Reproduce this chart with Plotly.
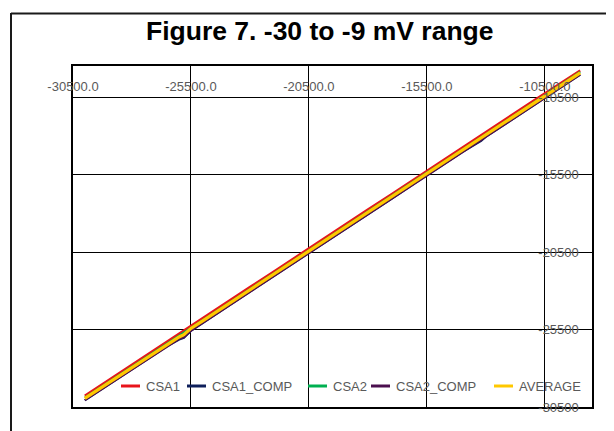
import plotly.graph_objects as go

# ---------------- data ----------------
series_names = ["CSA1", "CSA1_COMP", "CSA2", "CSA2_COMP", "AVERAGE"]

x_input = [-30000, -29000, -28000, -27000, -26500, -26000, -25800, -25500, -25000,
           -24000, -23000, -22000, -21000, -20000, -19000, -18000, -17000, -16000,
           -15500, -15000, -14000, -13200, -13000, -12000, -11000, -10000, -9500, -9000]

csa1 = [-29780, -28770, -27780, -26770, -26260, -25760, -25580, -25230, -24760,
        -23770, -22760, -21770, -20760, -19780, -18770, -17760, -16780, -15770,
        -15260, -14770, -13780, -12990, -12760, -11770, -10760, -9780, -9260, -8790]

csa1_comp = [-30070, -29060, -28070, -27060, -26570, -26140, -26040, -25580, -25060,
             -24070, -23060, -22070, -21060, -20070, -19060, -18060, -17070, -16060,
             -15560, -15070, -14060, -13330, -13060, -12070, -11060, -10070, -9560, -9060]

csa2 = [-29900, -28890, -27900, -26890, -26390, -25900, -25710, -25390, -24890,
        -23890, -22890, -21900, -20890, -19900, -18890, -17890, -16900, -15890,
        -15390, -14900, -13890, -13110, -12890, -11900, -10890, -9900, -9390, -8890]

csa2_comp = [-30060, -29070, -28060, -27070, -26570, -26100, -26000, -25570, -25070,
             -24070, -23060, -22070, -21060, -20070, -19060, -18060, -17070, -16060,
             -15560, -15070, -14060, -13310, -13060, -12070, -11060, -10070, -9560, -9060]

average = [-29940, -28940, -27940, -26940, -26440, -25980, -25840, -25430, -24940,
           -23940, -22930, -21940, -20930, -19940, -18940, -17930, -16940, -15930,
           -15430, -14940, -13940, -13180, -12930, -11940, -10930, -9940, -9430, -8940]

x_tick_vals = [-30500, -25500, -20500, -15500, -10500]
x_tick_text = ["-30500.0", "-25500.0", "-20500.0", "-15500.0", "-10500.0"]
y_tick_vals = [-30500, -25500, -20500, -15500, -10500]
y_tick_text = ["-30500", "-25500", "-20500", "-15500", "-10500"]

title_text = "Figure 7. -30 to -9 mV range"

# ---------------- styles ----------------
colors = ["#E8141B", "#0E1F5B", "#00B050", "#4B0F4E", "#FFC800"]
widths = [2.4, 2.2, 2.2, 2.2, 3.2]
FONT = "Liberation Sans, Arial, sans-serif"
GRAY = "#595959"

W, H = 614, 431
L, R, T, B = 65, 30, 58, 32
PW, PH = W - L - R, H - T - B


def px(p):
    return (p - L) / PW


def py(q):
    return (H - B - q) / PH


fig = go.Figure()
all_y = [csa1, csa1_comp, csa2, csa2_comp, average]
for name, yv, c, w in zip(series_names, all_y, colors, widths):
    fig.add_trace(go.Scatter(x=x_input, y=yv, mode="lines", name=name,
                             line=dict(color=c, width=w), showlegend=False))

# manual legend (Excel style short dashes)
legend_pos = [(113, 132, 136), (179, 198, 202), (300, 319, 323), (363, 382, 386), (486, 505, 509)]
leg_y = 378
shapes = []
annotations = []
for name, c, (a, b, t) in zip(series_names, colors, legend_pos):
    shapes.append(dict(type="line", xref="paper", yref="paper", x0=px(a), x1=px(b),
                       y0=py(leg_y), y1=py(leg_y), line=dict(color=c, width=3)))
    annotations.append(dict(xref="paper", yref="paper", x=px(t), y=py(leg_y),
                            xanchor="left", yanchor="middle", text=name, showarrow=False,
                            font=dict(family=FONT, size=13, color=GRAY)))

# outer frame
shapes.append(dict(type="line", xref="paper", yref="paper", x0=px(3), x1=px(616),
                   y0=py(5.5), y1=py(5.5), line=dict(color="#1a1a1a", width=2)))
shapes.append(dict(type="line", xref="paper", yref="paper", x0=px(3), x1=px(3),
                   y0=py(5), y1=py(430), line=dict(color="#1a1a1a", width=2)))
shapes.append(dict(type="line", xref="paper", yref="paper", x0=px(3), x1=px(616),
                   y0=py(430), y1=py(430), line=dict(color="#d4d4d4", width=1)))

annotations.append(dict(xref="paper", yref="paper", x=px(311.5), y=py(23),
                        xanchor="center", yanchor="middle", text="<b>" + title_text + "</b>",
                        showarrow=False, font=dict(family=FONT, size=26.5, color="#000000")))

fig.update_layout(
    width=W, height=H, autosize=False,
    margin=dict(l=L, r=R, t=T, b=B, pad=0),
    paper_bgcolor="white", plot_bgcolor="white",
    showlegend=False,
    shapes=shapes, annotations=annotations,
    xaxis=dict(range=[-30500, -8500], side="top", tickvals=x_tick_vals, ticktext=x_tick_text,
               ticklabelposition="inside", ticklabeloverflow="allow", ticks="",
               ticklabelstandoff=16,
               showgrid=True, gridcolor="#000000", gridwidth=1, zeroline=False,
               showline=True, mirror=True, linecolor="#000000", linewidth=1.6,
               tickfont=dict(family=FONT, size=13, color=GRAY)),
    yaxis=dict(range=[-30500, -8500], side="right", tickvals=y_tick_vals, ticktext=y_tick_text,
               ticklabelposition="inside", ticklabeloverflow="allow", ticks="",
               ticklabelstandoff=13,
               showgrid=True, gridcolor="#000000", gridwidth=1, zeroline=False,
               showline=True, mirror=True, linecolor="#000000", linewidth=1.6,
               tickfont=dict(family=FONT, size=13, color=GRAY)),
)

fig.write_html("out.html")
